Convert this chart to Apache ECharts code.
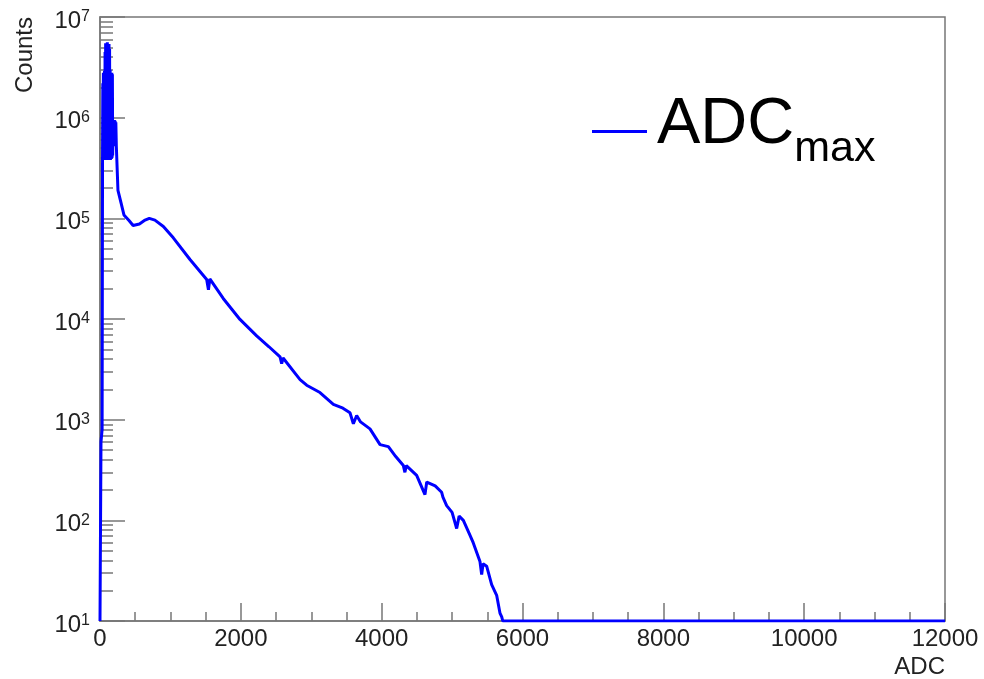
<!DOCTYPE html>
<html style="height: 100%">
<head>
  <meta charset="UTF-8">
  <title>ADC max</title>
  <script src="https://cdn.jsdelivr.net/npm/echarts/dist/echarts.min.js"></script>
</head>
<body style="height: 100%; margin: 0; background: #fff">
<div id="main" style="width: 984px; height: 679px"></div>

<script>
  // histogram: ADC value and counts (0 = empty bin)
  const adc = [
    0, 12, 14, 30, 36, 40, 44, 48, 52, 56, 60, 64, 68, 72, 76, 80, 84, 88, 92, 96,
    100, 104, 108, 112, 116, 120, 124, 128, 132, 136, 140, 144, 148, 152, 156, 160, 164, 168, 172, 176,
    180, 185, 190, 195, 200, 205, 210, 215, 220, 225, 232, 245, 255, 298, 340, 412, 470, 560,
    640, 700, 780, 900, 1041, 1278, 1515, 1540, 1560, 1750, 1988, 2225, 2400, 2557, 2580, 2600,
    2841, 2935, 3124, 3314, 3450, 3550, 3598, 3645, 3700, 3834, 3977, 4095, 4200, 4308, 4330,
    4350, 4497, 4615, 4640, 4760, 4852, 4870, 4923, 5000, 5065, 5100, 5160, 5255, 5300, 5396,
    5420, 5440, 5491, 5562, 5633, 5680, 5705, 5720, 12000
  ];
  const counts = [
    0, 0, 600, 800, 3.8e5, 2.2e6, 3.8e5, 2.8e6, 3.9e5, 2.7e6, 3.8e5, 2.9e6, 4.0e5, 4.5e6, 3.9e5, 5.5e6, 4.0e5, 5.0e6, 3.8e5, 5.3e6,
    3.9e5, 5.6e6, 4.0e5, 5.2e6, 3.8e5, 5.0e6, 3.9e5, 5.4e6, 4.0e5, 4.8e6, 4.2e5, 3.0e6, 3.8e5, 2.8e6, 4.0e5, 2.6e6, 3.9e5, 2.8e6, 4.0e5, 2.7e6,
    4.2e5, 9.5e5, 5.2e5, 9.5e5, 5.2e5, 9.5e5, 5.2e5, 9.3e5, 5.2e5, 9.0e5, 5.2e5, 5.0e5, 1.9e5, 1.43e5, 1.08e5, 9.5e4, 8.5e4, 8.8e4,
    9.6e4, 1.0e5, 9.6e4, 8.3e4, 6.4e4, 3.9e4, 2.47e4, 1.95e4, 2.5e4, 1.6e4, 9.9e3, 6.8e3, 5.3e3, 4.2e3, 3.6e3, 4.1e3,
    2.5e3, 2.2e3, 1.86e3, 1.42e3, 1.3e3, 1.17e3, 910, 1.1e3, 950, 810, 565, 540, 430, 350, 300,
    350, 280, 180, 240, 220, 190, 170, 140, 120, 83, 110, 100, 71, 60, 39,
    29, 37, 35, 23, 18, 12, 11, 0, 0
  ];
  const xTicks = [0, 2000, 4000, 6000, 8000, 10000, 12000];
  const yMin = 10;
  const yMax = 1e7;

  const font = 'Liberation Sans, Arial, Helvetica, sans-serif';
  const frame = '#777';

  // empty bins sit on the bottom of the log frame, as in ROOT
  const seriesData = adc.map((x, i) => [x, Math.max(counts[i], yMin)]);

  const option = {
    animation: false,
    backgroundColor: '#fff',
    grid: {
      left: 100,
      right: 39,
      top: 17,
      bottom: 56,
      show: true,
      borderColor: frame,
      borderWidth: 1.5
    },
    legend: {
      left: 587,
      top: 88,
      itemWidth: 55,
      itemHeight: 3,
      data: [{ name: 'ADC_max', icon: 'rect' }],
      formatter: () => '{a|ADC}{b|max}',
      textStyle: {
        fontFamily: font,
        color: '#000',
        padding: [0, 0, 12, 0],
        rich: {
          a: { fontSize: 65, lineHeight: 72, padding: [0, 0, 0, 5], fontFamily: font, color: '#000' },
          b: { fontSize: 43, padding: [48, 0, 0, 0], verticalAlign: 'top', fontFamily: font, color: '#000' }
        }
      }
    },
    xAxis: {
      type: 'value',
      min: xTicks[0],
      max: xTicks[xTicks.length - 1],
      interval: 2000,
      name: 'ADC',
      nameLocation: 'end',
      nameGap: 0,
      nameTextStyle: {
        fontFamily: font, fontSize: 24, color: '#222',
        align: 'right', verticalAlign: 'top', padding: [34, 0, 0, 0]
      },
      axisLine: { lineStyle: { color: frame, width: 1.5 } },
      axisTick: { inside: true, length: 18, lineStyle: { color: frame, width: 1.5 } },
      minorTick: { show: true, splitNumber: 4, length: 9, lineStyle: { color: frame, width: 1.5 } },
      splitLine: { show: false },
      axisLabel: {
        fontFamily: font, fontSize: 24, color: '#222', margin: 6,
        formatter: v => String(v)
      }
    },
    yAxis: {
      type: 'log',
      logBase: 10,
      min: yMin,
      max: yMax,
      axisLine: { show: true, lineStyle: { color: frame, width: 1.5 } },
      axisTick: { show: true, inside: true, length: 25, lineStyle: { color: frame, width: 1.5 } },
      minorTick: { show: true, splitNumber: 9, length: 13, lineStyle: { color: frame, width: 1.5 } },
      splitLine: { show: false },
      axisLabel: {
        margin: 10,
        fontFamily: font,
        fontSize: 24,
        color: '#222',
        padding: [8, 0, 0, 0],
        formatter: v => '10{s|' + Math.round(Math.log10(v)) + '}',
        rich: {
          s: { fontSize: 16, verticalAlign: 'top', fontFamily: font, color: '#222' }
        }
      }
    },
    graphic: [{
      type: 'text',
      x: 25,
      y: 17,
      rotation: Math.PI / 2,
      style: {
        text: 'Counts',
        font: '24px ' + font,
        fill: '#222',
        align: 'right',
        verticalAlign: 'middle'
      }
    }],
    series: [{
      name: 'ADC_max',
      type: 'line',
      symbol: 'none',
      clip: true,
      lineStyle: { color: '#0000ff', width: 3 },
      itemStyle: { color: '#0000ff' },
      data: seriesData
    }]
  };

  const chart = echarts.init(document.getElementById('main'));
  chart.setOption(option);
</script>
</body>
</html>
